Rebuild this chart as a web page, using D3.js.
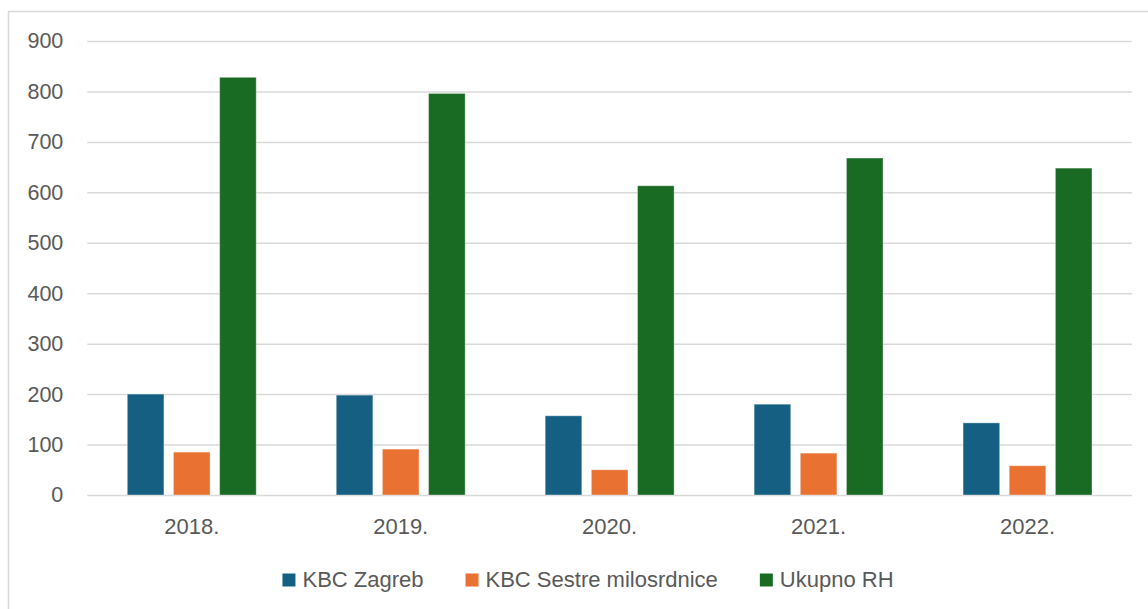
<!DOCTYPE html>
<html>
<head>
<meta charset="utf-8">
<script src="https://cdn.jsdelivr.net/npm/d3@7"></script>
<style>
  body { margin: 0; background: #fff; }
  svg { display: block; }
  .axis text { font-family: "Liberation Sans", Arial, sans-serif; fill: #595959; }
</style>
</head>
<body>
<div id="chart"></div>
<script>
var godine = ["2018.", "2019.", "2020.", "2021.", "2022."];
var serije = ["KBC Zagreb", "KBC Sestre milosrdnice", "Ukupno RH"];
var kbcZagreb = [200, 198, 157, 180, 143];
var kbcSestre = [85, 91, 50, 83, 58];
var ukupnoRH = [828, 796, 613, 668, 648];
var yTicks = [0, 100, 200, 300, 400, 500, 600, 700, 800, 900];

var boje = ["#156082", "#E97132", "#196B24"];

var W = 1148, H = 609;
var plotLeft = 87.3, plotRight = 1132, plotTop = 41, plotBottom = 495;

var svg = d3.select("#chart").append("svg")
    .attr("width", W)
    .attr("height", H);

// okvir grafikona
svg.append("rect")
    .attr("x", 8.5)
    .attr("y", 11.5)
    .attr("width", W + 20)
    .attr("height", H + 20)
    .attr("fill", "#fff")
    .attr("stroke", "#d9d9d9")
    .attr("stroke-width", 1.5);

var y = d3.scaleLinear().domain([0, 900]).range([plotBottom, plotTop]);

var x0 = d3.scaleBand()
    .domain(godine)
    .range([plotLeft, plotRight])
    .paddingInner(0.383)
    .paddingOuter(0.1915);

var x1 = d3.scaleBand()
    .domain(serije)
    .range([0, x0.bandwidth()])
    .paddingInner(0.207)
    .paddingOuter(0);

// mreza i oznake y osi
var yAxis = svg.append("g")
    .attr("class", "axis")
    .attr("transform", "translate(" + plotLeft + ",0)")
    .call(d3.axisLeft(y).tickValues(yTicks).tickSize(-(plotRight - plotLeft)).tickPadding(24));

yAxis.select(".domain").remove();
yAxis.selectAll("line")
    .attr("stroke", "#d9d9d9")
    .attr("stroke-width", 1.5);
yAxis.selectAll("text")
    .attr("font-size", 21.5);

var podaci = godine.map(function(g, i){
  return { godina: g, vrijednosti: [kbcZagreb[i], kbcSestre[i], ukupnoRH[i]] };
});

var grupe = svg.selectAll("g.grupa")
    .data(podaci)
    .enter()
    .append("g")
    .attr("class", "grupa")
    .attr("transform", function(d){
      return "translate(" + x0(d.godina) + ",0)";
    });

grupe.selectAll("rect")
    .data(function(d){
      return d.vrijednosti.map(function(v, j){ return { serija: serije[j], v: v, j: j }; });
    })
    .enter()
    .append("rect")
    .attr("x", function(d){ return x1(d.serija); })
    .attr("y", function(d){ return y(d.v); })
    .attr("width", x1.bandwidth())
    .attr("height", function(d){ return y(0) - y(d.v); })
    .attr("fill", function(d){ return boje[d.j]; })
    .attr("stroke", "#fff")
    .attr("stroke-opacity", 0.35)
    .attr("stroke-width", 1);

// x os
var xAxis = svg.append("g")
    .attr("class", "axis")
    .attr("transform", "translate(0," + plotBottom + ")")
    .call(d3.axisBottom(x0).tickSize(0).tickPadding(23));

xAxis.select(".domain").remove();
xAxis.selectAll("text")
    .attr("font-size", 22);

// legenda
var legenda = svg.append("g").attr("class", "axis");
var stavke = legenda.selectAll("g")
    .data(serije)
    .enter()
    .append("g");

stavke.append("rect")
    .attr("width", 13)
    .attr("height", 13)
    .attr("y", 573.5)
    .attr("fill", function(d, i){ return boje[i]; });

stavke.append("text")
    .attr("x", 20)
    .attr("y", 587)
    .attr("font-size", 22)
    .text(function(d){ return d; });

var razmak = 42;
var pozicije = [], ukupno = 0;
stavke.each(function(){
  var w = 20 + d3.select(this).select("text").node().getComputedTextLength();
  pozicije.push(ukupno);
  ukupno += w + razmak;
});
ukupno -= razmak;
var start = 588 - ukupno / 2;
stavke.attr("transform", function(d, i){
  return "translate(" + (start + pozicije[i]) + ",0)";
});
</script>
</body>
</html>
